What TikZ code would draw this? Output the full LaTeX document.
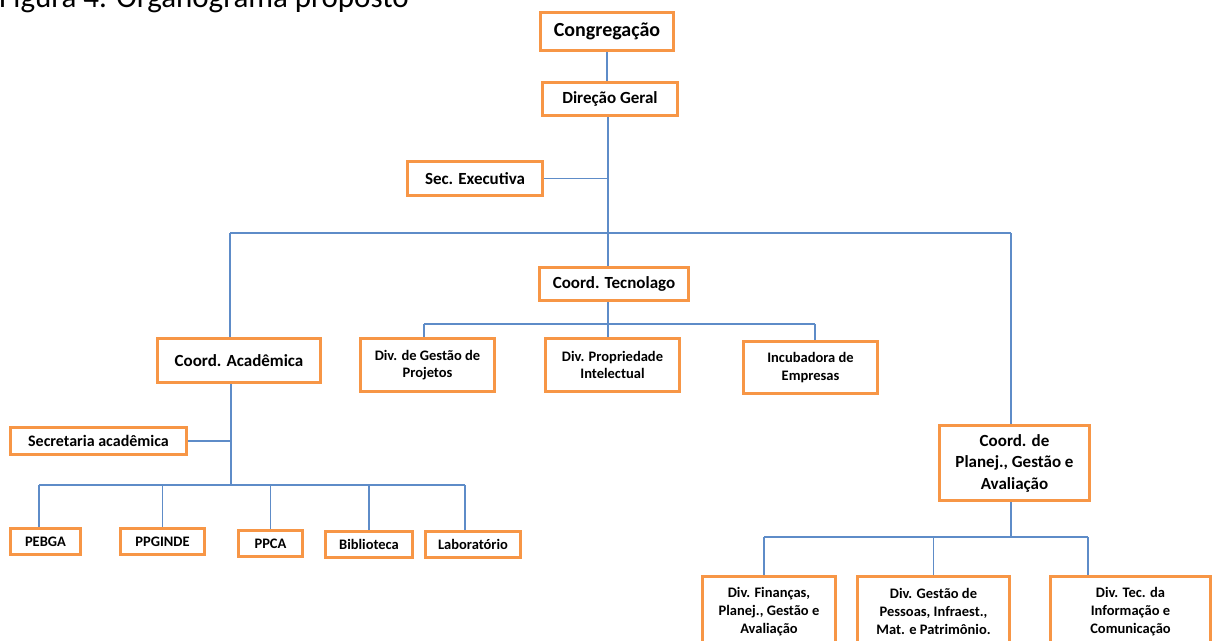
\documentclass[tikz,border=0pt]{standalone}
\usepackage{fontspec}
\setmainfont{Carlito}
\usepackage{tikz}
\definecolor{boxorange}{RGB}{247,150,70}
\definecolor{wireblue}{RGB}{94,140,200}
\tikzset{
  box/.style={draw=boxorange, line width=3pt, fill=white, align=center,
              inner sep=0pt, font=\bfseries},
  wire/.style={draw=wireblue, line width=1.2pt},
  txtL/.style={font=\fontsize{20}{22}\selectfont\bfseries},
  txtM/.style={font=\fontsize{17}{21.5}\selectfont\bfseries},
  txtP/.style={font=\fontsize{17}{21.5}\selectfont\bfseries},
  txtS/.style={font=\fontsize{17}{20}\selectfont\bfseries},
  txtSA/.style={font=\fontsize{16}{20}\selectfont\bfseries},
  txtXS/.style={font=\fontsize{14.5}{17.7}\selectfont\bfseries}
}
\newcommand{\linkto}[2]{
  \draw [wire] (#1) -- (#2)
}

\begin{document}
\begin{tikzpicture}[x=1pt,y=-1pt]
\useasboundingbox (0,0) rectangle (1214,640);

% title (cut at the top)
\node (T) [anchor=base west, inner sep=0pt, font=\fontsize{31}{36}\selectfont]
  at (-1,7) {Figura 4. Organograma proposto};

% bus points
\coordinate (B0) at (608,233);
\coordinate (BL) at (230,233);
\coordinate (BR) at (1011,233);
\coordinate (T0) at (608,324);
\coordinate (TL) at (424,324);
\coordinate (TR) at (815,324);
\coordinate (K0) at (231,485);
\coordinate (KL) at (39,485);
\coordinate (KR) at (465,485);
\coordinate (P0) at (1011,537);
\coordinate (PL) at (764,537);
\coordinate (PR) at (1088,537);

% top
\node (A1) [box, txtL, minimum width=133, minimum height=38] at (607,31.5) {Congregação};
\node (A2) [box, txtS, minimum width=135, minimum height=33] at (610,99) {Direção Geral};
\node (A3) [box, txtS, minimum width=135, minimum height=34] at (475,178.5) {Sec. Executiva};

% second level
\node (A4) [box, txtM, minimum width=149, minimum height=33] at (614,284) {Coord. Tecnolago};
\node (A5) [box, txtM, minimum width=163, minimum height=44] at (239,360.5) {Coord. Acadêmica};
\node (A15) [box, txtP, minimum width=150, minimum height=75] at (1014.5,463)
  {Coord. de\\Planej., Gestão e\\Avaliação};

% kids of A4
\node (A6) [box, txtXS, minimum width=134, minimum height=53] at (427.5,365) {Div. de Gestão de\\Projetos};
\node (A7) [box, txtXS, minimum width=134, minimum height=53] at (612.5,365) {Div. Propriedade\\Intelectual};
\node (A8) [box, txtXS, minimum width=134, minimum height=52] at (810.5,367.5) {Incubadora de\\Empresas};

% kids of A5
\node (A9) [box, txtSA, minimum width=176, minimum height=27] at (98.5,441) {Secretaria acadêmica};
\node (A10) [box, txtXS, minimum width=70, minimum height=26] at (45.5,541.5) {PEBGA};
\node (A11) [box, txtXS, minimum width=84, minimum height=26] at (162.5,541.5) {PPGINDE};
\node (A12) [box, txtXS, minimum width=64, minimum height=26] at (270.5,543.5) {PPCA};
\node (A13) [box, txtXS, minimum width=87, minimum height=26] at (369,544.5) {Biblioteca};
\node (A14) [box, txtXS, minimum width=95, minimum height=26] at (473,544.5) {Laboratório};

% kids of A15
\node (A16) [box, txtXS, minimum width=133, minimum height=70] at (769,611.5)
  {Div. Finanças,\\Planej., Gestão e\\Avaliação};
\node (A17) [box, txtXS, minimum width=152, minimum height=70] at (933.5,611.5)
  {Div. Gestão de\\Pessoas, Infraest.,\\Mat. e Patrimônio.};
\node (A18) [box, txtXS, minimum width=160, minimum height=70] at (1130.5,611.5)
  {Div. Tec. da\\Informação e\\Comunicação};

% connect top
\linkto {A1.south} {A1.south |- A2.north};
\linkto {A2.south -| B0} {B0};
\linkto {A3.east} {A3.east -| B0};

% main bus
\linkto {BL} {BR};
\linkto {BL} {BL |- A5.north};
\linkto {B0} {B0 |- A4.north};
\linkto {BR} {BR |- A15.north};

% connect A4
\linkto {T0 |- A4.south} {T0};
\linkto {TL} {TR};
\linkto {TL} {TL |- A6.north};
\linkto {T0} {T0 |- A7.north};
\linkto {TR} {TR |- A8.north};

% connect A5
\linkto {K0 |- A5.south} {K0};
\linkto {A9.east} {A9.east -| K0};
\linkto {KL} {KR};
\linkto {KL} {KL |- A10.north};
\linkto {KL -| A11.north} {A11.north};
\linkto {KL -| A12.north} {A12.north};
\linkto {KL -| A13.north} {A13.north};
\linkto {KR} {KR |- A14.north};

% connect A15
\linkto {P0 |- A15.south} {P0};
\linkto {PL} {PR};
\linkto {PL} {PL |- A16.north};
\linkto {P0 -| A17.north} {A17.north};
\linkto {PR} {PR |- A18.north};

\end{tikzpicture}
\end{document}
